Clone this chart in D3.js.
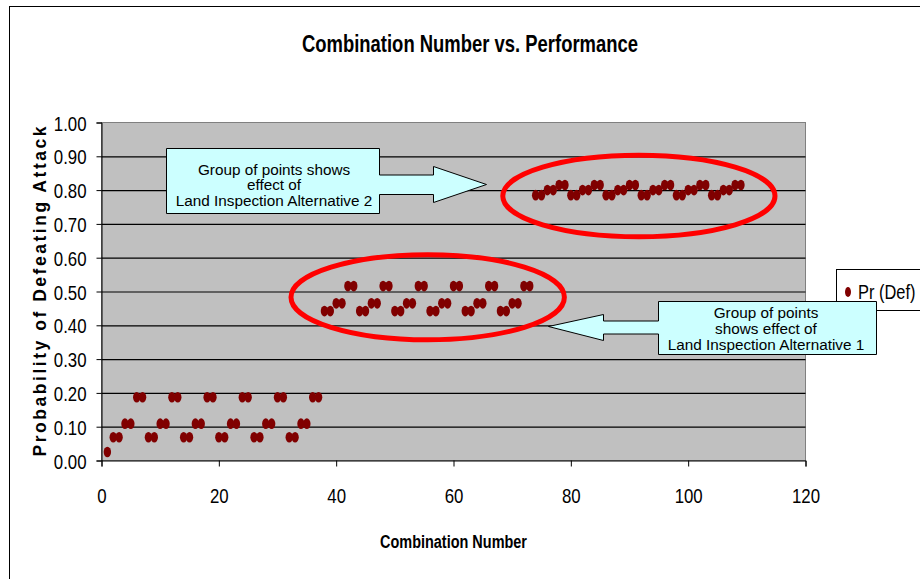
<!DOCTYPE html>
<html>
<head>
<meta charset="utf-8">
<script src="https://cdn.jsdelivr.net/npm/d3@7"></script>
<style>
  body { margin: 0; background: #fff; }
  svg { display: block; }
  text { font-family: "Liberation Sans", Arial, Helvetica, sans-serif; fill: #000; }
</style>
</head>
<body>
<svg id="chart" width="920" height="579"></svg>
<script>
// Combination numbers 1..109 and the probability of defeating the attack for each
const combination = [
  1, 2, 3, 4, 5, 6, 7, 8, 9, 10, 11, 12, 13, 14, 15, 16, 17, 18, 19, 20,
  21, 22, 23, 24, 25, 26, 27, 28, 29, 30, 31, 32, 33, 34, 35, 36, 37,
  38, 39, 40, 41, 42, 43, 44, 45, 46, 47, 48, 49, 50, 51, 52, 53, 54, 55,
  56, 57, 58, 59, 60, 61, 62, 63, 64, 65, 66, 67, 68, 69, 70, 71, 72, 73,
  74, 75, 76, 77, 78, 79, 80, 81, 82, 83, 84, 85, 86, 87, 88, 89, 90, 91,
  92, 93, 94, 95, 96, 97, 98, 99, 100, 101, 102, 103, 104, 105, 106, 107, 108, 109
];
const prDef = [
  0.025,
  0.069, 0.069, 0.109, 0.109, 0.187, 0.187,
  0.069, 0.069, 0.109, 0.109, 0.187, 0.187,
  0.069, 0.069, 0.109, 0.109, 0.187, 0.187,
  0.069, 0.069, 0.109, 0.109, 0.187, 0.187,
  0.069, 0.069, 0.109, 0.109, 0.187, 0.187,
  0.069, 0.069, 0.109, 0.109, 0.187, 0.187,
  0.442, 0.442, 0.465, 0.465, 0.516, 0.516,
  0.442, 0.442, 0.465, 0.465, 0.516, 0.516,
  0.442, 0.442, 0.465, 0.465, 0.516, 0.516,
  0.442, 0.442, 0.465, 0.465, 0.516, 0.516,
  0.442, 0.442, 0.465, 0.465, 0.516, 0.516,
  0.442, 0.442, 0.465, 0.465, 0.516, 0.516,
  0.785, 0.785, 0.800, 0.800, 0.815, 0.815,
  0.785, 0.785, 0.800, 0.800, 0.815, 0.815,
  0.785, 0.785, 0.800, 0.800, 0.815, 0.815,
  0.785, 0.785, 0.800, 0.800, 0.815, 0.815,
  0.785, 0.785, 0.800, 0.800, 0.815, 0.815,
  0.785, 0.785, 0.800, 0.800, 0.815, 0.815
];
const xTicks = [0, 20, 40, 60, 80, 100, 120];
const yTicks = [0.0, 0.1, 0.2, 0.3, 0.4, 0.5, 0.6, 0.7, 0.8, 0.9, 1.0];
const seriesName = "Pr (Def)";
const titleText = "Combination Number vs. Performance";
const xTitle = "Combination Number";
const yTitle = "Probability of Defeating Attack";
const noteAlt2 = ["Group of points shows", "effect of", "Land Inspection Alternative 2"];
const noteAlt1 = ["Group of points", "shows effect of", "Land Inspection Alternative 1"];

const points = combination.map((c, i) => ({ x: c, y: prDef[i] }));

const svg = d3.select("#chart");
const plot = { left: 101.5, right: 805.5, top: 122.5, bottom: 460.5 };

const x = d3.scaleLinear().domain([0, 120]).range([plot.left, plot.right]);
const y = d3.scaleLinear().domain([0, 1]).range([plot.bottom, plot.top]);

// squeeze text horizontally to mimic a narrow face
function condense(sel, k) {
  sel.each(function () {
    const w = this.getComputedTextLength();
    d3.select(this).attr("textLength", w * k).attr("lengthAdjust", "spacingAndGlyphs");
  });
}

// chart frame
svg.append("rect").attr("x", 9.5).attr("y", 6.5).attr("width", 940).attr("height", 600)
  .attr("fill", "#fff").attr("stroke", "#000").attr("stroke-width", 1);

// title
svg.append("text").attr("x", 470).attr("y", 52).attr("text-anchor", "middle")
  .attr("font-size", 24.5).attr("font-weight", "bold").text(titleText)
  .attr("textLength", 336).attr("lengthAdjust", "spacingAndGlyphs");

// plot background
svg.append("rect").attr("x", plot.left).attr("y", plot.top)
  .attr("width", plot.right - plot.left).attr("height", plot.bottom - plot.top)
  .attr("fill", "#c0c0c0").attr("stroke", "#808080").attr("stroke-width", 1);

// horizontal gridlines
svg.append("g").attr("class", "grid")
  .attr("transform", `translate(${plot.left},0)`)
  .call(d3.axisLeft(y).tickValues(yTicks.slice(1, -1)).tickSize(-(plot.right - plot.left)).tickFormat(""))
  .call(g => g.select(".domain").remove())
  .call(g => g.selectAll("line").attr("stroke", "#000").attr("stroke-width", 1.2));

// y axis
const yAxis = svg.append("g")
  .attr("transform", `translate(${plot.left},0)`)
  .call(d3.axisLeft(y).tickValues(yTicks).tickSize(5).tickPadding(10).tickFormat(d3.format(".2f")));
yAxis.select(".domain").attr("stroke", "#000");
yAxis.selectAll("line").attr("stroke", "#000");
yAxis.selectAll("text").attr("font-size", 20.5).attr("dy", "0.37em")
  .style("font-family", '"Liberation Sans", Arial, sans-serif').call(condense, 0.82);

// x axis
const xAxis = svg.append("g")
  .attr("transform", `translate(0,${plot.bottom})`)
  .call(d3.axisBottom(x).tickValues(xTicks).tickSize(6).tickPadding(22));
xAxis.select(".domain").attr("stroke", "#000");
xAxis.selectAll("line").attr("stroke", "#000");
xAxis.selectAll("text").attr("font-size", 20.5)
  .style("font-family", '"Liberation Sans", Arial, sans-serif').call(condense, 0.82);

// axis titles
svg.append("text").attr("x", (plot.left + plot.right) / 2).attr("y", 548)
  .attr("text-anchor", "middle").attr("font-size", 18).attr("font-weight", "bold")
  .text(xTitle).attr("textLength", 147).attr("lengthAdjust", "spacingAndGlyphs");

svg.append("text")
  .attr("transform", `translate(46,${(plot.top + plot.bottom) / 2}) rotate(-90)`)
  .attr("text-anchor", "middle").attr("font-size", 17.5).attr("font-weight", "bold")
  .text(yTitle).attr("textLength", 330).attr("lengthAdjust", "spacing");

// data points
svg.append("g").selectAll("ellipse").data(points).join("ellipse")
  .attr("cx", d => x(d.x)).attr("cy", d => y(d.y))
  .attr("rx", 3.7).attr("ry", 5.3).attr("fill", "#800000");

// highlight rings around the two groups
const rings = [
  { cx: 91.6, cy: 0.7825, rx: 23.2, ry: 0.1205 },
  { cx: 55.6, cy: 0.483, rx: 23.3, ry: 0.126 }
];
svg.append("g").selectAll("ellipse").data(rings).join("ellipse")
  .attr("cx", d => x(d.cx)).attr("cy", d => y(d.cy))
  .attr("rx", d => x(d.rx) - x(0)).attr("ry", d => y(0) - y(d.ry))
  .attr("fill", "none").attr("stroke", "#ff0000").attr("stroke-width", 5);

// legend
const legend = svg.append("g");
legend.append("rect").attr("x", 836.5).attr("y", 269.5).attr("width", 120).attr("height", 41)
  .attr("fill", "#fff").attr("stroke", "#000");
legend.append("ellipse").attr("cx", 848).attr("cy", 292).attr("rx", 3).attr("ry", 5).attr("fill", "#800000");
legend.append("text").attr("x", 858).attr("y", 299).attr("font-size", 20.5)
  .text(seriesName).call(condense, 0.8);

// arrow callouts
function callout(pathPts, lines, cx, firstBaseline) {
  const g = svg.append("g");
  g.append("path").attr("d", d3.line()(pathPts) + "Z")
    .attr("fill", "#ccffff").attr("stroke", "#000").attr("stroke-width", 1);
  lines.forEach((t, i) => {
    g.append("text").attr("x", cx).attr("y", firstBaseline + i * 15.8)
      .attr("text-anchor", "middle").attr("font-size", 15.3).text(t);
  });
}

callout([
  [166.5, 148.5], [379.5, 148.5], [379.5, 175], [433.5, 175], [433.5, 166.5],
  [486.5, 184.5], [433.5, 202.5], [433.5, 194.5], [379.5, 194.5], [379.5, 213.5], [166.5, 213.5]
], noteAlt2, 274, 174.5);

callout([
  [658.5, 301.5], [876.5, 301.5], [876.5, 354.5], [658.5, 354.5], [658.5, 334], [603.5, 334],
  [603.5, 340.5], [548.5, 326.5], [603.5, 314.5], [603.5, 321], [658.5, 321]
], noteAlt1, 766, 318);
</script>
</body>
</html>
